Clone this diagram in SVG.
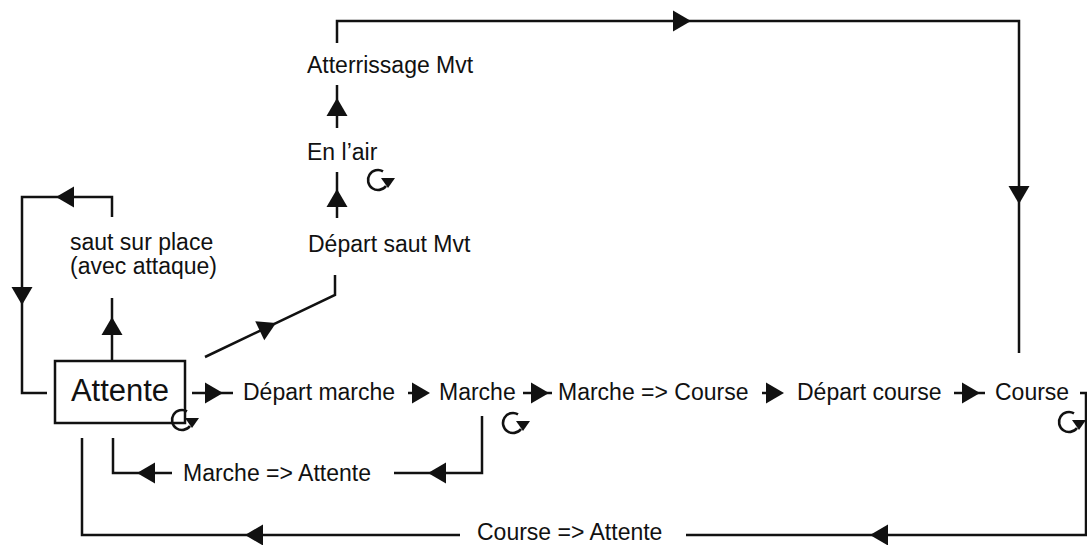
<svg xmlns="http://www.w3.org/2000/svg" xmlns:xlink="http://www.w3.org/1999/xlink" width="1087" height="545" viewBox="0 0 1087 545">
<style>
.ln{fill:none;stroke:#111;stroke-width:2.5;stroke-linejoin:miter}
.t{font-family:"Liberation Sans",Arial,sans-serif;font-size:23px;fill:#111}
.big{font-size:31px}
.box{fill:#fff;stroke:#111;stroke-width:2.5}
.ah{fill:#111}
.lp{fill:none;stroke:#111;stroke-width:2.6}
</style>
<defs>
<path id="ah" class="ah" d="M0,0 L-18,-10.5 L-18,10.5 Z"/>
<g id="loop">
<path class="lp" d="M 5 -8.7 A 10 10 0 1 0 8 6"/>
<path class="ah" d="M 3 -2 L 17 -2 L 10 8 Z"/>
</g>
</defs>
<rect width="1087" height="545" fill="#fff"/>
<g id="connectors">
<path class="ln" d="M 112 217 V 197 H 22 V 393 H 47"/>
<use xlink:href="#ah" transform="translate(56,197) rotate(180)"/>
<use xlink:href="#ah" transform="translate(22,305) rotate(90)"/>
<path class="ln" d="M 112 361 V 298"/>
<use xlink:href="#ah" transform="translate(112,317) rotate(-90)"/>
<path class="ln" d="M 205 357 L 335 295 V 275"/>
<use xlink:href="#ah" transform="translate(276,323) rotate(-25.5)"/>
<path class="ln" d="M 337 218 V 172"/>
<use xlink:href="#ah" transform="translate(337,189) rotate(-90)"/>
<path class="ln" d="M 337 128 V 85"/>
<use xlink:href="#ah" transform="translate(337,98) rotate(-90)"/>
<path class="ln" d="M 337 43 V 21 H 1019 V 353"/>
<use xlink:href="#ah" transform="translate(691,21)"/>
<use xlink:href="#ah" transform="translate(1019,204) rotate(90)"/>
<path class="ln" d="M 192 393 H 233"/>
<use xlink:href="#ah" transform="translate(223,393)"/>
<path class="ln" d="M 408 393 H 414"/>
<use xlink:href="#ah" transform="translate(430,393)"/>
<path class="ln" d="M 523 393 H 552"/>
<use xlink:href="#ah" transform="translate(549,393)"/>
<path class="ln" d="M 762 393 H 768"/>
<use xlink:href="#ah" transform="translate(784,393)"/>
<path class="ln" d="M 954 393 H 985"/>
<use xlink:href="#ah" transform="translate(980,393)"/>
<path class="ln" d="M 482 416 V 473 H 394"/>
<use xlink:href="#ah" transform="translate(428,473) rotate(180)"/>
<path class="ln" d="M 172 473 H 113 V 438"/>
<use xlink:href="#ah" transform="translate(137,473) rotate(180)"/>
<path class="ln" d="M 1080 393 H 1086 V 535 H 686"/>
<use xlink:href="#ah" transform="translate(870,535) rotate(180)"/>
<path class="ln" d="M 460 535 H 82 V 438"/>
<use xlink:href="#ah" transform="translate(245,535) rotate(180)"/>
</g>
<g id="attente">
<rect class="box" x="55" y="361" width="130" height="62"/>
<text class="t big" x="120" y="401" text-anchor="middle">Attente</text>
<use xlink:href="#loop" transform="translate(182,420)"/>
</g>
<g id="saut-sur-place">
<text class="t" x="70" y="250">saut sur place</text>
<text class="t" x="70" y="274">(avec attaque)</text>
</g>
<g id="depart-saut">
<text class="t" x="308" y="252">Départ saut Mvt</text>
</g>
<g id="en-l-air">
<text class="t" x="307" y="160">En l’air</text>
<use xlink:href="#loop" transform="translate(378,180)"/>
</g>
<g id="atterrissage">
<text class="t" x="307" y="73">Atterrissage Mvt</text>
</g>
<g id="depart-marche">
<text class="t" x="243" y="400">Départ marche</text>
</g>
<g id="marche">
<text class="t" x="439" y="400">Marche</text>
<use xlink:href="#loop" transform="translate(513,423)"/>
</g>
<g id="marche-course">
<text class="t" x="558" y="400">Marche =&gt; Course</text>
</g>
<g id="depart-course">
<text class="t" x="797" y="400">Départ course</text>
</g>
<g id="course">
<text class="t" x="995" y="400">Course</text>
<use xlink:href="#loop" transform="translate(1069,422)"/>
</g>
<g id="marche-attente">
<text class="t" x="183" y="481">Marche =&gt; Attente</text>
</g>
<g id="course-attente">
<text class="t" x="477" y="540">Course =&gt; Attente</text>
</g>
</svg>
